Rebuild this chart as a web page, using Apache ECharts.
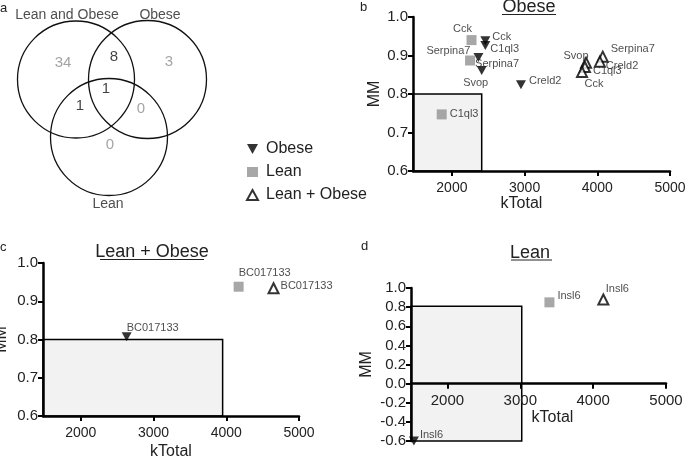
<!DOCTYPE html>
<html><head><meta charset="utf-8">
<script src="https://cdn.jsdelivr.net/npm/echarts@6/dist/echarts.min.js"></script>
<style>html,body{margin:0;padding:0;background:#fff}#c{width:685px;height:458px}</style>
</head><body><div id="c"></div>
<script>
// ---------- Venn (panel a) ----------
const vennSetNames = ['Lean and Obese', 'Obese', 'Lean'];
const vennCircleX = [76, 147.5, 109];
const vennCircleY = [79.5, 79.5, 137];
const vennCircleR = [58.5, 59, 58.5];
const vennSetLabelX = [67, 160, 108];
const vennSetLabelY = [15, 15, 204];
const vennCounts = [34, 8, 3, 1, 1, 0, 0];
const vennCountX = [63, 114, 169, 106, 80, 141, 110];
const vennCountY = [63, 57, 62, 89, 106, 109, 145];
const vennCountShared = [false, true, false, true, true, false, false];

// ---------- Panel b : Obese ----------
const bLeanGenes = ['Cck', 'Serpina7', 'C1ql3'];
const bLeanK = [2270, 2250, 1860];
const bLeanMM = [0.940, 0.887, 0.747];
const bObeseGenes = ['Cck', 'C1ql3', 'Serpina7', 'Svop', 'Creld2'];
const bObeseK = [2460, 2460, 2365, 2410, 2950];
const bObeseMM = [0.938, 0.926, 0.895, 0.861, 0.824];
const bBothGenes = ['Svop', 'C1ql3', 'Cck', 'Serpina7', 'Creld2'];
const bBothK = [3845, 3830, 3790, 4075, 4035];
const bBothMM = [0.881, 0.870, 0.857, 0.897, 0.884];
const bBox = [2410, 0.8];

// ---------- Panel c : Lean + Obese ----------
const cGenes = ['BC017133'];
const cLeanK = [4170], cLeanMM = [0.938];
const cObeseK = [2630], cObeseMM = [0.807];
const cBothK = [4650], cBothMM = [0.934];
const cBox = [3950, 0.8];

// ---------- Panel d : Lean ----------
const dGenes = ['Insl6'];
const dLeanK = [3400], dLeanMM = [0.85];
const dObeseK = [1540], dObeseMM = [-0.6];
const dBothK = [4140], dBothMM = [0.88];
const dBox = [3020, 0.81];

const xTickValues = [2000, 3000, 4000, 5000];

// ---------- styling ----------
const FONT = '"Liberation Sans", Arial, sans-serif';
const TXT = '#222';
const GRAY = '#919191';
const DOWN = 'path://M0,0L10,0L5,9Z';

// label placement per point: [position, dx, dy]
const bLeanLab = [['top', -9, 2], ['right', -3, 3], ['right', 0, 0]];
const bObeseLab = [['right', -1, -4], ['right', -3, 3], ['left', 0, -6], ['bottom', -6, -1], ['right', 0, -4]];
const bBothLab = [['top', -10, 8], ['right', -1, 4], ['bottom', 12, -3], ['right', -1, -8], ['right', -3, 4]];

function mkData(ks, mms, genes, labs, fs) {
  return ks.map((k, i) => {
    const l = labs[i];
    return {
      value: [k, mms[i]], name: genes[i],
      label: { show: true, position: l[0], offset: [l[1], l[2]], formatter: genes[i],
               fontSize: fs, color: TXT, fontFamily: FONT, distance: 3 }
    };
  });
}

function xAx(gi, min, fs, margin, gap, pad) {
  return {
    type: 'value', gridIndex: gi, min: min, max: 5000, z: 2,
    axisLine: { show: true, onZero: false, lineStyle: { color: '#000', width: 2.5 } },
    axisTick: { show: true, length: 5, lineStyle: { color: '#000', width: 2 }, customValues: xTickValues },
    axisLabel: { customValues: xTickValues, color: TXT, fontSize: fs, fontFamily: FONT, margin: margin,
                 formatter: v => String(Math.round(v)) },
    splitLine: { show: false },
    name: 'kTotal', nameLocation: 'middle', nameGap: gap,
    nameTextStyle: { fontSize: 16, color: TXT, fontFamily: FONT, padding: pad }
  };
}
function yAx(gi, min, max, interval, fs, gap) {
  return {
    type: 'value', gridIndex: gi, min: min, max: max, interval: interval, z: 2,
    axisLine: { show: true, onZero: false, lineStyle: { color: '#000', width: 2.5 } },
    axisTick: { show: true, length: 5, lineStyle: { color: '#000', width: 2 } },
    axisLabel: { color: TXT, fontSize: fs, fontFamily: FONT, margin: 5,
      formatter: v => (Math.abs(v) < 1e-9 ? '0.0' : v.toFixed(1)) },
    splitLine: { show: false },
    name: 'MM', nameLocation: 'middle', nameGap: gap,
    nameTextStyle: { fontSize: 16, color: TXT, fontFamily: FONT }
  };
}

const leanStyle = { color: GRAY };
const obeseStyle = { color: '#000' };
const bothStyle = { color: '#fff', borderColor: '#000', borderWidth: 2 };

function panelSeries(gi, leanData, obeseData, bothData, xmin, ymin, box) {
  return [
    { type: 'scatter', name: 'Obese', xAxisIndex: gi, yAxisIndex: gi, z: 3,
      symbol: DOWN, symbolSize: [10, 9], itemStyle: obeseStyle, data: obeseData,
      markArea: { silent: true, itemStyle: { color: '#f2f2f2', borderColor: '#000', borderWidth: 1.5 },
        data: [[{ coord: [xmin, ymin] }, { coord: [box[0], box[1]] }]] } },
    { type: 'scatter', name: 'Lean', xAxisIndex: gi, yAxisIndex: gi, z: 3,
      symbol: 'rect', symbolSize: 10, itemStyle: leanStyle, data: leanData },
    { type: 'scatter', name: 'Lean + Obese', xAxisIndex: gi, yAxisIndex: gi, z: 3,
      symbol: 'triangle', symbolSize: 10, itemStyle: bothStyle, data: bothData }
  ];
}

const BXMIN = 1465, CXMIN = 1480, DXMIN = 1500;
const DYMIN = -0.6, DYMAX = 1.0;

const series = [];
// Venn circles
series.push({
  type: 'custom', xAxisIndex: 0, yAxisIndex: 0, z: 2, silent: true,
  renderItem: (params, api) => {
    const c = api.coord([api.value(0), api.value(1)]);
    const r = api.size([api.value(2), 0])[0];
    return { type: 'circle', shape: { cx: c[0], cy: c[1], r: r },
             style: { fill: 'none', stroke: '#111', lineWidth: 1.3 } };
  },
  data: vennCircleX.map((x, i) => [x, vennCircleY[i], vennCircleR[i]])
});
// Venn counts
series.push({
  type: 'scatter', xAxisIndex: 0, yAxisIndex: 0, symbolSize: 0, silent: true, z: 3,
  data: vennCounts.map((n, i) => ({
    value: [vennCountX[i], vennCountY[i]],
    label: { show: true, position: 'inside', formatter: String(n), fontSize: 15,
             fontFamily: FONT, color: vennCountShared[i] ? '#111' : '#8c8c8c' }
  }))
});
// Venn set names
series.push({
  type: 'scatter', xAxisIndex: 0, yAxisIndex: 0, symbolSize: 0, silent: true, z: 3,
  data: vennSetNames.map((s, i) => ({
    value: [vennSetLabelX[i], vennSetLabelY[i]],
    label: { show: true, position: 'inside', formatter: s, fontSize: 14, fontFamily: FONT, color: TXT }
  }))
});

series.push(...panelSeries(1,
  mkData(bLeanK, bLeanMM, bLeanGenes, bLeanLab, 11),
  mkData(bObeseK, bObeseMM, bObeseGenes, bObeseLab, 11),
  mkData(bBothK, bBothMM, bBothGenes, bBothLab, 11), BXMIN, 0.6, bBox));
series.push(...panelSeries(2,
  mkData(cLeanK, cLeanMM, cGenes, [['top', 26, 0]], 11),
  mkData(cObeseK, cObeseMM, cGenes, [['top', 26, 4]], 11),
  mkData(cBothK, cBothMM, cGenes, [['right', -2, -2]], 11), CXMIN, 0.6, cBox));
series.push(...panelSeries(3,
  mkData(dLeanK, dLeanMM, dGenes, [['right', 0, -6]], 11),
  mkData(dObeseK, dObeseMM, dGenes, [['right', -2, -6]], 11),
  mkData(dBothK, dBothMM, dGenes, [['top', 14, 4]], 11), DXMIN, DYMIN, dBox));

// panel d: the kTotal axis sits on MM = 0; a companion grid ends exactly at that level
const dTop = 288, dHeight = 153;
const dZeroHeight = dHeight * (DYMAX - 0) / (DYMAX - DYMIN);

const G = { outerBoundsMode: 'none', containLabel: false };
const option = {
  backgroundColor: '#fff',
  animation: false,
  grid: [
    Object.assign({ left: 0, top: 0, width: 230, height: 230 }, G),
    Object.assign({ left: 413, top: 17, width: 257, height: 154 }, G),
    Object.assign({ left: 43, top: 263, width: 256, height: 153 }, G),
    Object.assign({ left: 411, top: dTop, width: 255, height: dHeight }, G),
    Object.assign({ left: 411, top: dTop, width: 255, height: dZeroHeight }, G)
  ],
  xAxis: [
    { type: 'value', gridIndex: 0, min: 0, max: 230, show: false },
    xAx(1, BXMIN, 14, 10, 25, [0, 40, 0, 0]),
    xAx(2, CXMIN, 14, 10, 28, [0, 0, 0, 0]),
    { type: 'value', gridIndex: 3, min: DXMIN, max: 5000, show: false },
    xAx(4, DXMIN, 15, 10, 25, [0, 0, 0, 28])
  ],
  yAxis: [
    { type: 'value', gridIndex: 0, min: 0, max: 230, inverse: true, show: false },
    yAx(1, 0.6, 1.0, 0.1, 15, 30),
    yAx(2, 0.6, 1.0, 0.1, 15, 33),
    yAx(3, DYMIN, DYMAX, 0.2, 15, 36),
    { type: 'value', gridIndex: 4, min: 0, max: DYMAX, show: false }
  ],
  legend: {
    orient: 'vertical', left: 241, top: 136, itemWidth: 11, itemHeight: 10, itemGap: 7,
    selectedMode: false,
    textStyle: { fontSize: 16, color: TXT, fontFamily: FONT, padding: [0, 0, 0, 3] },
    data: [
      { name: 'Obese', icon: DOWN, itemStyle: { color: '#000' } },
      { name: 'Lean', icon: 'rect', itemStyle: { color: GRAY } },
      { name: 'Lean + Obese', icon: 'triangle', itemStyle: { color: '#fff', borderColor: '#000', borderWidth: 2 } }
    ]
  },
  graphic: [
    { type: 'text', x: 0, y: 8, style: { text: 'a', font: '13px ' + FONT, fill: TXT, textVerticalAlign: 'middle' } },
    { type: 'text', x: 360, y: 7, style: { text: 'b', font: '13px ' + FONT, fill: TXT, textVerticalAlign: 'middle' } },
    { type: 'text', x: 0, y: 247, style: { text: 'c', font: '13px ' + FONT, fill: TXT, textVerticalAlign: 'middle' } },
    { type: 'text', x: 361, y: 246, style: { text: 'd', font: '13px ' + FONT, fill: TXT, textVerticalAlign: 'middle' } },
    { type: 'text', x: 529, y: 16, style: { text: 'Obese', font: '18px ' + FONT, fill: TXT, textAlign: 'center', textVerticalAlign: 'bottom' } },
    { type: 'line', shape: { x1: 502, y1: 14.5, x2: 556, y2: 14.5 }, style: { stroke: TXT, lineWidth: 1 } },
    { type: 'text', x: 152, y: 261, style: { text: 'Lean + Obese', font: '18px ' + FONT, fill: TXT, textAlign: 'center', textVerticalAlign: 'bottom' } },
    { type: 'line', shape: { x1: 100, y1: 259.5, x2: 204, y2: 259.5 }, style: { stroke: TXT, lineWidth: 1 } },
    { type: 'text', x: 530, y: 262, style: { text: 'Lean', font: '18px ' + FONT, fill: TXT, textAlign: 'center', textVerticalAlign: 'bottom' } },
    { type: 'line', shape: { x1: 511, y1: 260, x2: 552, y2: 260 }, style: { stroke: TXT, lineWidth: 1 } }
  ],
  series: series
};

const chart = echarts.init(document.getElementById('c'), null, { renderer: 'canvas' });
chart.setOption(option);
</script>
</body></html>
